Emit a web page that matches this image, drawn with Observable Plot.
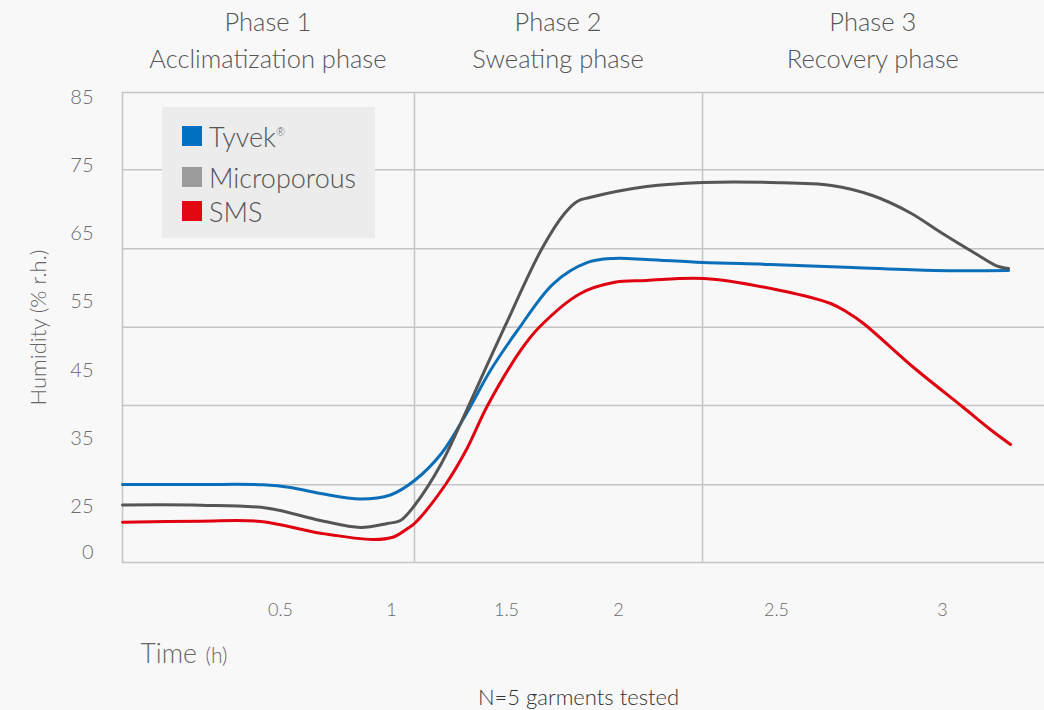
<!DOCTYPE html>
<html>
<head>
<meta charset="utf-8">
<script src="https://cdn.jsdelivr.net/npm/d3@7"></script>
<script src="https://cdn.jsdelivr.net/npm/@observablehq/plot@0.6"></script>
<style>
  html, body { margin: 0; padding: 0; background: #f8f8f8; }
  #wrap { position: relative; width: 1044px; height: 710px; overflow: hidden;
          font-family: Lato, "Open Sans", sans-serif; font-weight: 300; }
  #legend { position: absolute; left: 162px; top: 107px; width: 213px; height: 131px; background: #ececec; }
  .item { position: absolute; left: 20px; height: 30px; display: flex; align-items: center;
          font-size: 27px; color: #555; white-space: nowrap; }
  .sw { width: 20px; height: 20px; margin-right: 7px; flex: none; }
  .item sup { font-size: 11px; vertical-align: 11px; }
</style>
</head>
<body>
<div id="wrap"><div id="chart"></div><div id="legend"></div></div>
<script>
// ---- data ----
const timeTicks = [0.5, 1, 1.5, 2, 2.5, 3];
const humidityTicks = [0, 25, 35, 45, 55, 65, 75, 85];
const gridLevels = [28.2, 39.8, 51.3, 62.8, 74.4];
const phaseBounds = [1.1, 2.266];
const phaseCenters = [0.46, 1.73, 2.79];
const phaseTitles = ["Phase 1", "Phase 2", "Phase 3"];
const phaseNames = ["Acclimatization phase", "Sweating phase", "Recovery phase"];
const seriesNames = ["Tyvek®", "Microporous", "SMS"];
const lineColors = ["#0a6fb8", "#555555", "#e0000f"];
const swatchColors = ["#0070c0", "#9b9b9b", "#e30613"];

const tyvekTime = [0, 0.247, 0.446, 0.545, 0.68, 0.86, 0.995, 1.1, 1.217, 1.326, 1.43, 1.549, 1.71, 1.862, 1.978, 2.089, 2.266, 2.481, 2.729, 2.976, 3.199];
const tyvekHumidity = [28.23, 28.23, 28.18, 27.79, 26.91, 26.1, 26.69, 28.81, 32.78, 38.64, 44.95, 50.82, 57.71, 60.8, 61.39, 61.24, 60.8, 60.51, 60.06, 59.62, 59.62];

const microTime = [0, 0.247, 0.459, 0.68, 0.86, 0.982, 1.039, 1.1, 1.217, 1.326, 1.413, 1.491, 1.656, 1.759, 1.817, 1.871, 2.089, 2.266, 2.481, 2.666, 2.789, 2.901, 3.0, 3.099, 3.161, 3.199];
const microHumidity = [25.22, 25.19, 24.08, 17.39, 13.59, 15.76, 17.39, 25.15, 31.31, 39.08, 45.54, 51.26, 62.7, 67.98, 69.79, 70.33, 71.94, 72.53, 72.53, 72.09, 70.62, 68.13, 65.05, 62.11, 60.35, 59.91];

const smsTime = [0, 0.247, 0.437, 0.68, 0.919, 1.009, 1.07, 1.1, 1.235, 1.326, 1.416, 1.563, 1.644, 1.83, 1.978, 2.089, 2.272, 2.512, 2.663, 2.714, 2.762, 2.913, 3.063, 3.148, 3.205];
const smsHumidity = [16.47, 17.01, 16.85, 10.49, 7.07, 8.42, 13.04, 15.76, 28.23, 33.36, 39.71, 47.89, 51.22, 56.25, 57.86, 58.15, 58.45, 56.69, 54.78, 53.46, 51.85, 45.39, 39.52, 36.15, 34.1];

// ---- build table ----
const rows = [];
[[tyvekTime, tyvekHumidity], [microTime, microHumidity], [smsTime, smsHumidity]].forEach(([t, h], k) => {
  t.forEach((v, i) => rows.push({series: seriesNames[k], time: v, humidity: h[i]}));
});

const phaseLabel = phaseTitles.map((t, i) => t + "\n" + phaseNames[i]);

const chart = Plot.plot({
  width: 1044,
  height: 710,
  marginTop: 92,
  marginBottom: 148,
  marginLeft: 122,
  marginRight: -2,
  style: {background: "transparent", fontFamily: "Lato, 'Open Sans', sans-serif", fontWeight: 300, overflow: "hidden"},
  x: {type: "linear", domain: [0, 0.5, 1, 1.5, 2, 2.5, 3], range: [122, 280, 391, 506, 618, 776, 942]},
  y: {type: "linear", domain: [0, 25, 85], range: [552, 506, 97]},
  color: {domain: seriesNames, range: lineColors},
  marks: [
    Plot.ruleY(gridLevels, {stroke: "#c4c4c4", strokeWidth: 1.5}),
    Plot.ruleX(phaseBounds, {stroke: "#c4c4c4", strokeWidth: 1.5}),
    Plot.frame({stroke: "#c4c4c4", strokeWidth: 1.5}),
    Plot.axisX(timeTicks, {tickSize: 0, tickPadding: 41, fontSize: 18, fill: "#6a6a6a", label: null, fontWeight: 300, tickFormat: d => `${d}`}),
    Plot.axisY(humidityTicks, {tickSize: 0, tickPadding: 29, fontSize: 20, fill: "#6a6a6a", label: null, fontWeight: 300, tickFormat: d => `${d}`}),
    Plot.line(rows, {x: "time", y: "humidity", z: "series", stroke: "series", strokeWidth: 3, curve: "catmull-rom"}),
    Plot.text(phaseLabel, {x: phaseCenters, text: d => d, frameAnchor: "top", lineAnchor: "middle", dy: -54.5, lineHeight: 1.45, fontSize: 25.5, fill: "#555", fontWeight: 300}),
    Plot.text(["Humidity (% r.h.)"], {frameAnchor: "left", textAnchor: "middle", lineAnchor: "middle", rotate: -90, dx: -84, fontSize: 22, fill: "#666", fontWeight: 300}),
    Plot.text(["Time"], {frameAnchor: "bottom-left", textAnchor: "start", lineAnchor: "middle", dx: 18, dy: 92, fontSize: 26.5, fill: "#666", fontWeight: 300}),
    Plot.text(["(h)"], {frameAnchor: "bottom-left", textAnchor: "start", lineAnchor: "middle", dx: 83, dy: 94, fontSize: 21, fill: "#666", fontWeight: 300}),
    Plot.text(["N=5 garments tested"], {frameAnchor: "bottom", lineAnchor: "middle", dx: -6, dy: 135, fontSize: 22, fill: "#333", fontWeight: 300})
  ]
});
document.getElementById("chart").appendChild(chart);

// ---- legend ----
const legend = document.getElementById("legend");
const itemTops = [14, 55, 89];
seriesNames.forEach((name, i) => {
  const div = document.createElement("div");
  div.className = "item";
  div.style.top = itemTops[i] + "px";
  const sw = document.createElement("span");
  sw.className = "sw";
  sw.style.background = swatchColors[i];
  div.appendChild(sw);
  const label = document.createElement("span");
  if (name.endsWith("®")) {
    label.textContent = name.slice(0, -1);
    const sup = document.createElement("sup");
    sup.textContent = "®";
    label.appendChild(sup);
  } else {
    label.textContent = name;
  }
  div.appendChild(label);
  legend.appendChild(div);
});
</script>
</body>
</html>
